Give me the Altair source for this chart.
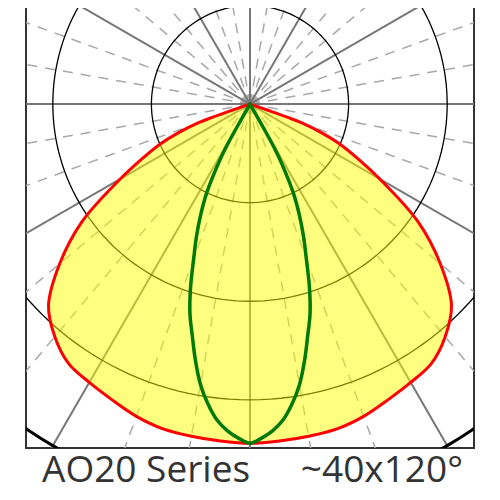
import altair as alt
import pandas as pd

# Photometric data (angle from nadir in degrees, intensity in arbitrary units)
red_ang = [0, 5, 10, 15, 20, 25, 30, 35, 40, 45, 50, 55, 60, 63, 66, 68, 70, 70.5, 70.8, 71]
red_int = [344, 343, 342, 341, 337, 331, 326, 321, 308, 289, 252, 208, 152, 124, 100, 80, 56, 40, 20, 0]
green_ang = [0, 2, 4, 6, 8, 10, 12, 14, 16, 18, 20, 22, 24, 26, 28, 29, 29.5, 30]
green_int = [344, 339, 332, 322, 307, 289, 266, 242, 221, 195, 167, 145, 123, 100, 69, 51, 25, 0]

ring_radii = [100, 200, 300]
outer_radius = [400]
solid_spokes = list(range(0, 360, 30))
dashed_spokes = [a for a in range(0, 360, 10) if a % 30]
labels = ["AO20 Series", "~40x120°"]

X_DOM = [-227.2, 227.2]
Y_DOM = [-348.8, 104.5]
xs = alt.Scale(domain=X_DOM, nice=False, zero=False)
ys = alt.Scale(domain=Y_DOM, nice=False, zero=False)

def mirror(angs, vals):
    a = [-x for x in angs[::-1]] + angs[1:]
    v = vals[::-1] + vals[1:]
    return pd.DataFrame({"ang": a, "r": v})

red_df = mirror(red_ang, red_int)
green_df = mirror(green_ang, green_int)
half_red = pd.DataFrame({"ang": red_ang, "r": red_int})

circ_angles = list(range(0, 362, 2))
rings_df = pd.DataFrame([(r, a) for r in ring_radii for a in circ_angles], columns=["r", "ang"])
outer_df = pd.DataFrame([(r, a) for r in outer_radius for a in circ_angles], columns=["r", "ang"])

polar_x = "datum.r * sin(datum.ang * PI / 180)"
polar_y = "-datum.r * cos(datum.ang * PI / 180)"


def spokes(angles, **mark):
    df = pd.DataFrame({"ang": angles})
    return (
        alt.Chart(df)
        .transform_calculate(
            x0="0", y0="0",
            x1="700 * sin(datum.ang * PI / 180)",
            y1="-700 * cos(datum.ang * PI / 180)",
        )
        .mark_rule(clip=True, **mark)
        .encode(
            x=alt.X("x0:Q", scale=xs, axis=None),
            y=alt.Y("y0:Q", scale=ys, axis=None),
            x2="x1:Q",
            y2="y1:Q",
        )
    )


dashed = spokes(dashed_spokes, color="#a8a8a8", strokeWidth=1.5, strokeDash=[10, 8])
solid = spokes(solid_spokes, color="#777777", strokeWidth=2)


def circles(df, width):
    return (
        alt.Chart(df)
        .transform_calculate(x=polar_x, y=polar_y)
        .mark_line(clip=True, color="black", strokeWidth=width)
        .encode(
            x=alt.X("x:Q", scale=xs, axis=None),
            y=alt.Y("y:Q", scale=ys, axis=None),
            detail="r:N",
            order="ang:Q",
        )
    )


rings = circles(rings_df, 1.3)
outer = circles(outer_df, 3)

fill = (
    alt.Chart(half_red)
    .transform_calculate(
        xr="datum.r * sin(datum.ang * PI / 180)",
        xl="-datum.r * sin(datum.ang * PI / 180)",
        y=polar_y,
    )
    .mark_area(clip=True, color="#ffff00", fill="#ffff00", fillOpacity=0.5,
               orient="horizontal", interpolate="catmull-rom")
    .encode(
        y=alt.Y("y:Q", scale=ys, axis=None),
        x=alt.X("xl:Q", scale=xs, axis=None),
        x2="xr:Q",
    )
)


def curve(df, color, width):
    return (
        alt.Chart(df)
        .transform_calculate(x=polar_x, y=polar_y)
        .mark_line(clip=True, color=color, strokeWidth=width, strokeJoin="round",
                   strokeCap="round", interpolate="catmull-rom")
        .encode(
            x=alt.X("x:Q", scale=xs, axis=None),
            y=alt.Y("y:Q", scale=ys, axis=None),
            order="ang:Q",
        )
    )


red = curve(red_df, "#ff0000", 3)
green = curve(green_df, "#007a00", 3.5)

lab_df = pd.DataFrame({"label": labels, "i": [0, 1]})
txt_left = (
    alt.Chart(lab_df)
    .transform_filter("datum.i == 0")
    .mark_text(align="left", baseline="alphabetic", font="Open Sans", fontSize=37, color="#333333")
    .encode(text="label:N", x=alt.value(16), y=alt.value(481))
)
txt_right = (
    alt.Chart(lab_df)
    .transform_filter("datum.i == 1")
    .mark_text(align="right", baseline="alphabetic", font="Open Sans", fontSize=37, color="#333333")
    .encode(text="label:N", x=alt.value(437), y=alt.value(481))
)

chart = (
    alt.layer(dashed, solid, rings, outer, fill, red, green, txt_left, txt_right)
    .properties(
        width=448,
        height=447,
        autosize="none",
        padding={"left": 18, "top": -7, "right": 10, "bottom": 44},
    )
    .configure_view(stroke="#333333", strokeWidth=2)
)

chart.save("out.html", embed_options={"renderer": "svg", "actions": False})
